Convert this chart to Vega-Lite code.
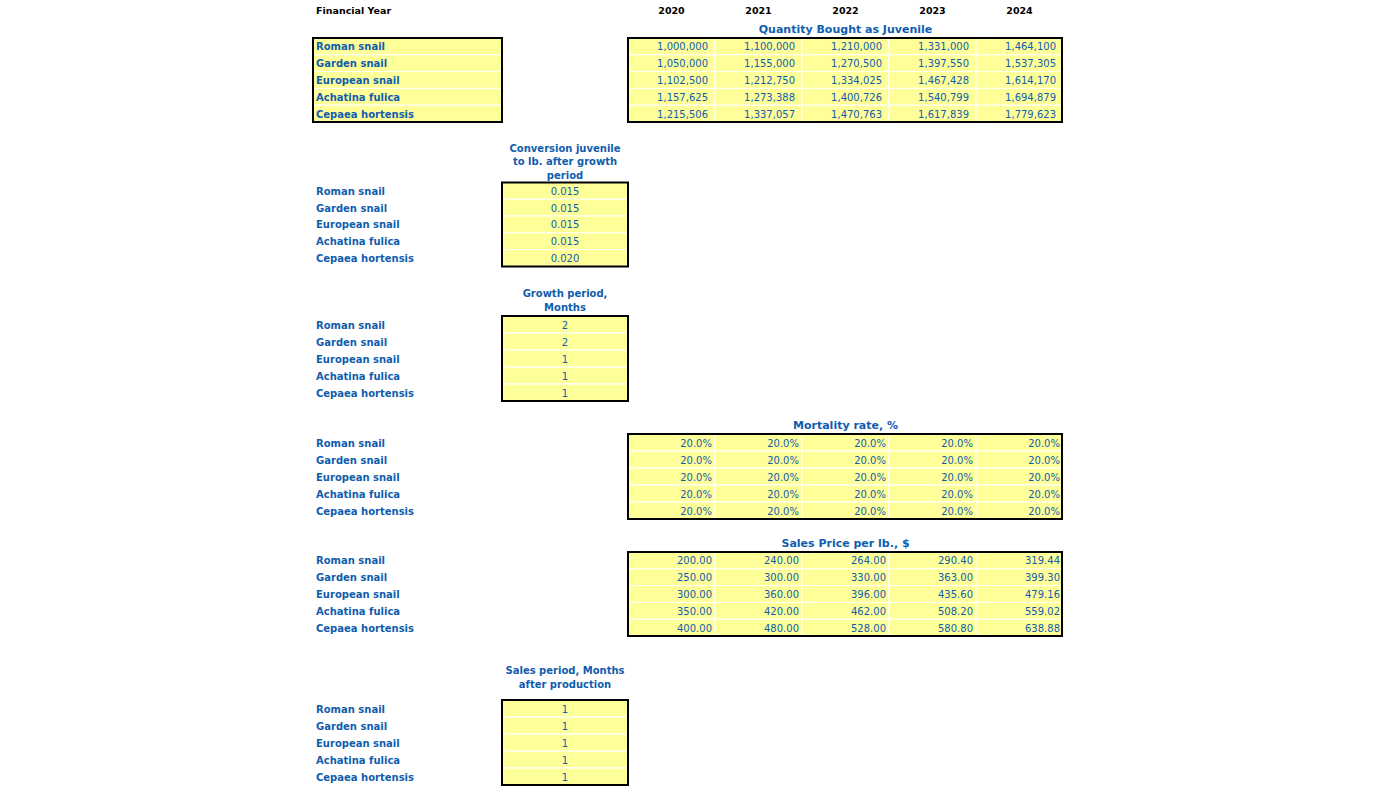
{
  "$schema": "https://vega.github.io/schema/vega-lite/v6.json",
  "width": 1396,
  "height": 786,
  "padding": 0,
  "autosize": "none",
  "background": "#ffffff",
  "config": {"view": {"stroke": null}, "axis": {"disable": true}, "font": "DejaVu Sans"},
  "datasets": {
    "labels": [
      {"species": "Roman snail", "row": 3, "col": 1, "boxed": true},
      {"species": "Garden snail", "row": 4, "col": 1, "boxed": true},
      {"species": "European snail", "row": 5, "col": 1, "boxed": true},
      {"species": "Achatina fulica", "row": 6, "col": 1, "boxed": true},
      {"species": "Cepaea hortensis", "row": 7, "col": 1, "boxed": true},
      {"species": "Roman snail", "row": 10, "col": 1, "boxed": false},
      {"species": "Garden snail", "row": 11, "col": 1, "boxed": false},
      {"species": "European snail", "row": 12, "col": 1, "boxed": false},
      {"species": "Achatina fulica", "row": 13, "col": 1, "boxed": false},
      {"species": "Cepaea hortensis", "row": 14, "col": 1, "boxed": false},
      {"species": "Roman snail", "row": 17, "col": 1, "boxed": false},
      {"species": "Garden snail", "row": 18, "col": 1, "boxed": false},
      {"species": "European snail", "row": 19, "col": 1, "boxed": false},
      {"species": "Achatina fulica", "row": 20, "col": 1, "boxed": false},
      {"species": "Cepaea hortensis", "row": 21, "col": 1, "boxed": false},
      {"species": "Roman snail", "row": 24, "col": 1, "boxed": false},
      {"species": "Garden snail", "row": 25, "col": 1, "boxed": false},
      {"species": "European snail", "row": 26, "col": 1, "boxed": false},
      {"species": "Achatina fulica", "row": 27, "col": 1, "boxed": false},
      {"species": "Cepaea hortensis", "row": 28, "col": 1, "boxed": false},
      {"species": "Roman snail", "row": 31, "col": 1, "boxed": false},
      {"species": "Garden snail", "row": 32, "col": 1, "boxed": false},
      {"species": "European snail", "row": 33, "col": 1, "boxed": false},
      {"species": "Achatina fulica", "row": 34, "col": 1, "boxed": false},
      {"species": "Cepaea hortensis", "row": 35, "col": 1, "boxed": false},
      {"species": "Roman snail", "row": 38, "col": 1, "boxed": false},
      {"species": "Garden snail", "row": 39, "col": 1, "boxed": false},
      {"species": "European snail", "row": 40, "col": 1, "boxed": false},
      {"species": "Achatina fulica", "row": 41, "col": 1, "boxed": false},
      {"species": "Cepaea hortensis", "row": 42, "col": 1, "boxed": false}
    ],
    "factors": [
      {"section": "conversion", "species": "Roman snail", "value": 0.015, "row": 10, "col": 2},
      {"section": "conversion", "species": "Garden snail", "value": 0.015, "row": 11, "col": 2},
      {"section": "conversion", "species": "European snail", "value": 0.015, "row": 12, "col": 2},
      {"section": "conversion", "species": "Achatina fulica", "value": 0.015, "row": 13, "col": 2},
      {"section": "conversion", "species": "Cepaea hortensis", "value": 0.02, "row": 14, "col": 2},
      {"section": "growth", "species": "Roman snail", "value": 2, "row": 17, "col": 2},
      {"section": "growth", "species": "Garden snail", "value": 2, "row": 18, "col": 2},
      {"section": "growth", "species": "European snail", "value": 1, "row": 19, "col": 2},
      {"section": "growth", "species": "Achatina fulica", "value": 1, "row": 20, "col": 2},
      {"section": "growth", "species": "Cepaea hortensis", "value": 1, "row": 21, "col": 2},
      {"section": "salesperiod", "species": "Roman snail", "value": 1, "row": 38, "col": 2},
      {"section": "salesperiod", "species": "Garden snail", "value": 1, "row": 39, "col": 2},
      {"section": "salesperiod", "species": "European snail", "value": 1, "row": 40, "col": 2},
      {"section": "salesperiod", "species": "Achatina fulica", "value": 1, "row": 41, "col": 2},
      {"section": "salesperiod", "species": "Cepaea hortensis", "value": 1, "row": 42, "col": 2}
    ],
    "yearly": [
      {"section": "quantity", "species": "Roman snail", "year": 2020, "value": 1000000, "row": 3, "col": 3},
      {"section": "quantity", "species": "Roman snail", "year": 2021, "value": 1100000, "row": 3, "col": 4},
      {"section": "quantity", "species": "Roman snail", "year": 2022, "value": 1210000, "row": 3, "col": 5},
      {"section": "quantity", "species": "Roman snail", "year": 2023, "value": 1331000, "row": 3, "col": 6},
      {"section": "quantity", "species": "Roman snail", "year": 2024, "value": 1464100, "row": 3, "col": 7},
      {"section": "quantity", "species": "Garden snail", "year": 2020, "value": 1050000, "row": 4, "col": 3},
      {"section": "quantity", "species": "Garden snail", "year": 2021, "value": 1155000, "row": 4, "col": 4},
      {"section": "quantity", "species": "Garden snail", "year": 2022, "value": 1270500, "row": 4, "col": 5},
      {"section": "quantity", "species": "Garden snail", "year": 2023, "value": 1397550, "row": 4, "col": 6},
      {"section": "quantity", "species": "Garden snail", "year": 2024, "value": 1537305, "row": 4, "col": 7},
      {"section": "quantity", "species": "European snail", "year": 2020, "value": 1102500, "row": 5, "col": 3},
      {"section": "quantity", "species": "European snail", "year": 2021, "value": 1212750, "row": 5, "col": 4},
      {"section": "quantity", "species": "European snail", "year": 2022, "value": 1334025, "row": 5, "col": 5},
      {"section": "quantity", "species": "European snail", "year": 2023, "value": 1467428, "row": 5, "col": 6},
      {"section": "quantity", "species": "European snail", "year": 2024, "value": 1614170, "row": 5, "col": 7},
      {"section": "quantity", "species": "Achatina fulica", "year": 2020, "value": 1157625, "row": 6, "col": 3},
      {"section": "quantity", "species": "Achatina fulica", "year": 2021, "value": 1273388, "row": 6, "col": 4},
      {"section": "quantity", "species": "Achatina fulica", "year": 2022, "value": 1400726, "row": 6, "col": 5},
      {"section": "quantity", "species": "Achatina fulica", "year": 2023, "value": 1540799, "row": 6, "col": 6},
      {"section": "quantity", "species": "Achatina fulica", "year": 2024, "value": 1694879, "row": 6, "col": 7},
      {"section": "quantity", "species": "Cepaea hortensis", "year": 2020, "value": 1215506, "row": 7, "col": 3},
      {"section": "quantity", "species": "Cepaea hortensis", "year": 2021, "value": 1337057, "row": 7, "col": 4},
      {"section": "quantity", "species": "Cepaea hortensis", "year": 2022, "value": 1470763, "row": 7, "col": 5},
      {"section": "quantity", "species": "Cepaea hortensis", "year": 2023, "value": 1617839, "row": 7, "col": 6},
      {"section": "quantity", "species": "Cepaea hortensis", "year": 2024, "value": 1779623, "row": 7, "col": 7},
      {"section": "mortality", "species": "Roman snail", "year": 2020, "value": 0.2, "row": 24, "col": 3},
      {"section": "mortality", "species": "Roman snail", "year": 2021, "value": 0.2, "row": 24, "col": 4},
      {"section": "mortality", "species": "Roman snail", "year": 2022, "value": 0.2, "row": 24, "col": 5},
      {"section": "mortality", "species": "Roman snail", "year": 2023, "value": 0.2, "row": 24, "col": 6},
      {"section": "mortality", "species": "Roman snail", "year": 2024, "value": 0.2, "row": 24, "col": 7},
      {"section": "mortality", "species": "Garden snail", "year": 2020, "value": 0.2, "row": 25, "col": 3},
      {"section": "mortality", "species": "Garden snail", "year": 2021, "value": 0.2, "row": 25, "col": 4},
      {"section": "mortality", "species": "Garden snail", "year": 2022, "value": 0.2, "row": 25, "col": 5},
      {"section": "mortality", "species": "Garden snail", "year": 2023, "value": 0.2, "row": 25, "col": 6},
      {"section": "mortality", "species": "Garden snail", "year": 2024, "value": 0.2, "row": 25, "col": 7},
      {"section": "mortality", "species": "European snail", "year": 2020, "value": 0.2, "row": 26, "col": 3},
      {"section": "mortality", "species": "European snail", "year": 2021, "value": 0.2, "row": 26, "col": 4},
      {"section": "mortality", "species": "European snail", "year": 2022, "value": 0.2, "row": 26, "col": 5},
      {"section": "mortality", "species": "European snail", "year": 2023, "value": 0.2, "row": 26, "col": 6},
      {"section": "mortality", "species": "European snail", "year": 2024, "value": 0.2, "row": 26, "col": 7},
      {"section": "mortality", "species": "Achatina fulica", "year": 2020, "value": 0.2, "row": 27, "col": 3},
      {"section": "mortality", "species": "Achatina fulica", "year": 2021, "value": 0.2, "row": 27, "col": 4},
      {"section": "mortality", "species": "Achatina fulica", "year": 2022, "value": 0.2, "row": 27, "col": 5},
      {"section": "mortality", "species": "Achatina fulica", "year": 2023, "value": 0.2, "row": 27, "col": 6},
      {"section": "mortality", "species": "Achatina fulica", "year": 2024, "value": 0.2, "row": 27, "col": 7},
      {"section": "mortality", "species": "Cepaea hortensis", "year": 2020, "value": 0.2, "row": 28, "col": 3},
      {"section": "mortality", "species": "Cepaea hortensis", "year": 2021, "value": 0.2, "row": 28, "col": 4},
      {"section": "mortality", "species": "Cepaea hortensis", "year": 2022, "value": 0.2, "row": 28, "col": 5},
      {"section": "mortality", "species": "Cepaea hortensis", "year": 2023, "value": 0.2, "row": 28, "col": 6},
      {"section": "mortality", "species": "Cepaea hortensis", "year": 2024, "value": 0.2, "row": 28, "col": 7},
      {"section": "price", "species": "Roman snail", "year": 2020, "value": 200, "row": 31, "col": 3},
      {"section": "price", "species": "Roman snail", "year": 2021, "value": 240, "row": 31, "col": 4},
      {"section": "price", "species": "Roman snail", "year": 2022, "value": 264, "row": 31, "col": 5},
      {"section": "price", "species": "Roman snail", "year": 2023, "value": 290.4, "row": 31, "col": 6},
      {"section": "price", "species": "Roman snail", "year": 2024, "value": 319.44, "row": 31, "col": 7},
      {"section": "price", "species": "Garden snail", "year": 2020, "value": 250, "row": 32, "col": 3},
      {"section": "price", "species": "Garden snail", "year": 2021, "value": 300, "row": 32, "col": 4},
      {"section": "price", "species": "Garden snail", "year": 2022, "value": 330, "row": 32, "col": 5},
      {"section": "price", "species": "Garden snail", "year": 2023, "value": 363, "row": 32, "col": 6},
      {"section": "price", "species": "Garden snail", "year": 2024, "value": 399.3, "row": 32, "col": 7},
      {"section": "price", "species": "European snail", "year": 2020, "value": 300, "row": 33, "col": 3},
      {"section": "price", "species": "European snail", "year": 2021, "value": 360, "row": 33, "col": 4},
      {"section": "price", "species": "European snail", "year": 2022, "value": 396, "row": 33, "col": 5},
      {"section": "price", "species": "European snail", "year": 2023, "value": 435.6, "row": 33, "col": 6},
      {"section": "price", "species": "European snail", "year": 2024, "value": 479.16, "row": 33, "col": 7},
      {"section": "price", "species": "Achatina fulica", "year": 2020, "value": 350, "row": 34, "col": 3},
      {"section": "price", "species": "Achatina fulica", "year": 2021, "value": 420, "row": 34, "col": 4},
      {"section": "price", "species": "Achatina fulica", "year": 2022, "value": 462, "row": 34, "col": 5},
      {"section": "price", "species": "Achatina fulica", "year": 2023, "value": 508.2, "row": 34, "col": 6},
      {"section": "price", "species": "Achatina fulica", "year": 2024, "value": 559.02, "row": 34, "col": 7},
      {"section": "price", "species": "Cepaea hortensis", "year": 2020, "value": 400, "row": 35, "col": 3},
      {"section": "price", "species": "Cepaea hortensis", "year": 2021, "value": 480, "row": 35, "col": 4},
      {"section": "price", "species": "Cepaea hortensis", "year": 2022, "value": 528, "row": 35, "col": 5},
      {"section": "price", "species": "Cepaea hortensis", "year": 2023, "value": 580.8, "row": 35, "col": 6},
      {"section": "price", "species": "Cepaea hortensis", "year": 2024, "value": 638.88, "row": 35, "col": 7}
    ],
    "headers": [
      {"kind": "fy", "text": "Financial Year", "row": 1, "col": 1},
      {"kind": "year", "text": "2020", "row": 1, "col": 3},
      {"kind": "year", "text": "2021", "row": 1, "col": 4},
      {"kind": "year", "text": "2022", "row": 1, "col": 5},
      {"kind": "year", "text": "2023", "row": 1, "col": 6},
      {"kind": "year", "text": "2024", "row": 1, "col": 7},
      {"kind": "title", "text": "Quantity Bought as Juvenile", "row": 2, "col": 5},
      {"kind": "title", "text": "Mortality rate, %", "row": 23, "col": 5},
      {"kind": "title", "text": "Sales Price per lb., $", "row": 30, "col": 5},
      {"kind": "sub3", "text": "Conversion juvenile\nto lb. after growth\nperiod", "row": 9, "col": 2},
      {"kind": "sub2", "text": "Growth period,\nMonths", "row": 16, "col": 2},
      {"kind": "sub2", "text": "Sales period, Months\nafter production", "row": 37, "col": 2}
    ],
    "blocks": [
      {"c0": 1, "c1": 2, "r0": 3, "r1": 7},
      {"c0": 3, "c1": 8, "r0": 3, "r1": 7},
      {"c0": 2, "c1": 3, "r0": 10, "r1": 14},
      {"c0": 2, "c1": 3, "r0": 17, "r1": 21},
      {"c0": 3, "c1": 8, "r0": 24, "r1": 28},
      {"c0": 3, "c1": 8, "r0": 31, "r1": 35},
      {"c0": 2, "c1": 3, "r0": 38, "r1": 42}
    ]
  },
  "layer": [
    {
      "data": {"name": "labels"},
      "transform": [{"filter": "datum.boxed"}],
      "mark": {"type": "rect", "fill": "#FFFF99", "stroke": "#ffffff", "strokeWidth": 1, "yOffset": -8.4, "y2Offset": 8.4, "x2Offset": 189},
      "encoding": {
        "x": {"field": "col", "type": "quantitative", "axis": null,
              "scale": {"type": "linear", "domain": [1, 2, 3, 4, 5, 6, 7, 8], "range": [313, 502, 628, 715, 802, 889, 976, 1062], "zero": false, "nice": false}},
        "x2": {"field": "col"},
        "y": {"field": "row", "type": "quantitative", "axis": null,
              "scale": {"type": "linear", "domain": [1, 2, 3, 7, 9, 10, 14, 16, 17, 21, 23, 24, 28, 30, 31, 35, 37, 38, 42], "range": [10, 29, 46.4, 113.6, 161, 190.8, 258, 300, 324.5, 392.5, 425, 442.5, 510.5, 543, 560.4, 627.6, 677, 708.5, 776.5], "zero": false, "nice": false}},
        "y2": {"field": "row"}
      }
    },
    {
      "data": {"name": "factors"},
      "mark": {"type": "rect", "fill": "#FFFF99", "stroke": "#ffffff", "strokeWidth": 1, "yOffset": -8.4, "y2Offset": 8.4, "x2Offset": 126},
      "encoding": {
        "x": {"field": "col", "type": "quantitative", "axis": null},
        "x2": {"field": "col"},
        "y": {"field": "row", "type": "quantitative", "axis": null},
        "y2": {"field": "row"}
      }
    },
    {
      "data": {"name": "yearly"},
      "mark": {"type": "rect", "fill": "#FFFF99", "stroke": "#ffffff", "strokeWidth": 1, "yOffset": -8.4, "y2Offset": 8.4, "x2Offset": 87},
      "encoding": {
        "x": {"field": "col", "type": "quantitative", "axis": null},
        "x2": {"field": "col"},
        "y": {"field": "row", "type": "quantitative", "axis": null},
        "y2": {"field": "row"}
      }
    },
    {
      "data": {"name": "blocks"},
      "mark": {"type": "rect", "filled": false, "stroke": "#000000", "strokeWidth": 2, "yOffset": -8.4, "y2Offset": 8.4},
      "encoding": {
        "x": {"field": "c0", "type": "quantitative", "axis": null},
        "x2": {"field": "c1"},
        "y": {"field": "r0", "type": "quantitative", "axis": null},
        "y2": {"field": "r1"}
      }
    },
    {
      "data": {"name": "labels"},
      "mark": {"type": "text", "align": "left", "baseline": "middle", "dx": 3, "dy": 1, "font": "DejaVu Sans", "fontSize": 10, "fontWeight": "bold", "color": "#0F5DAE"},
      "encoding": {
        "x": {"field": "col", "type": "quantitative", "axis": null},
        "y": {"field": "row", "type": "quantitative", "axis": null},
        "text": {"field": "species"}
      }
    },
    {
      "data": {"name": "factors"},
      "transform": [{"filter": "datum.section === 'conversion'"}],
      "mark": {"type": "text", "align": "center", "baseline": "middle", "dx": 63, "dy": 1, "font": "DejaVu Sans", "fontSize": 10, "color": "#0F5DAE"},
      "encoding": {
        "x": {"field": "col", "type": "quantitative", "axis": null},
        "y": {"field": "row", "type": "quantitative", "axis": null},
        "text": {"field": "value", "type": "quantitative", "format": ".3f"}
      }
    },
    {
      "data": {"name": "factors"},
      "transform": [{"filter": "datum.section !== 'conversion'"}],
      "mark": {"type": "text", "align": "center", "baseline": "middle", "dx": 63, "dy": 1, "font": "DejaVu Sans", "fontSize": 10, "color": "#0F5DAE"},
      "encoding": {
        "x": {"field": "col", "type": "quantitative", "axis": null},
        "y": {"field": "row", "type": "quantitative", "axis": null},
        "text": {"field": "value", "type": "quantitative", "format": "d"}
      }
    },
    {
      "data": {"name": "yearly"},
      "transform": [{"filter": "datum.section === 'quantity'"}],
      "mark": {"type": "text", "align": "right", "baseline": "middle", "dx": 80, "dy": 1, "font": "DejaVu Sans", "fontSize": 10, "color": "#0F5DAE"},
      "encoding": {
        "x": {"field": "col", "type": "quantitative", "axis": null},
        "y": {"field": "row", "type": "quantitative", "axis": null},
        "text": {"field": "value", "type": "quantitative", "format": ",.0f"}
      }
    },
    {
      "data": {"name": "yearly"},
      "transform": [{"filter": "datum.section === 'mortality'"}],
      "mark": {"type": "text", "align": "right", "baseline": "middle", "dx": 84, "dy": 1, "font": "DejaVu Sans", "fontSize": 10, "color": "#0F5DAE"},
      "encoding": {
        "x": {"field": "col", "type": "quantitative", "axis": null},
        "y": {"field": "row", "type": "quantitative", "axis": null},
        "text": {"field": "value", "type": "quantitative", "format": ".1%"}
      }
    },
    {
      "data": {"name": "yearly"},
      "transform": [{"filter": "datum.section === 'price'"}],
      "mark": {"type": "text", "align": "right", "baseline": "middle", "dx": 84, "dy": 1, "font": "DejaVu Sans", "fontSize": 10, "color": "#0F5DAE"},
      "encoding": {
        "x": {"field": "col", "type": "quantitative", "axis": null},
        "y": {"field": "row", "type": "quantitative", "axis": null},
        "text": {"field": "value", "type": "quantitative", "format": ",.2f"}
      }
    },
    {
      "data": {"name": "headers"},
      "transform": [{"filter": "datum.kind === 'fy'"}],
      "mark": {"type": "text", "align": "left", "baseline": "middle", "dx": 3, "dy": 1, "font": "DejaVu Sans", "fontSize": 9.5, "fontWeight": "bold", "color": "#000000"},
      "encoding": {
        "x": {"field": "col", "type": "quantitative", "axis": null},
        "y": {"field": "row", "type": "quantitative", "axis": null},
        "text": {"field": "text"}
      }
    },
    {
      "data": {"name": "headers"},
      "transform": [{"filter": "datum.kind === 'year'"}],
      "mark": {"type": "text", "align": "center", "baseline": "middle", "dx": 43.5, "dy": 1, "font": "DejaVu Sans", "fontSize": 9.5, "fontWeight": "bold", "color": "#000000"},
      "encoding": {
        "x": {"field": "col", "type": "quantitative", "axis": null},
        "y": {"field": "row", "type": "quantitative", "axis": null},
        "text": {"field": "text"}
      }
    },
    {
      "data": {"name": "headers"},
      "transform": [{"filter": "datum.kind === 'title'"}],
      "mark": {"type": "text", "align": "center", "baseline": "middle", "dx": 43.5, "dy": 1, "font": "DejaVu Sans", "fontSize": 11, "fontWeight": "bold", "color": "#0F5DAE"},
      "encoding": {
        "x": {"field": "col", "type": "quantitative", "axis": null},
        "y": {"field": "row", "type": "quantitative", "axis": null},
        "text": {"field": "text"}
      }
    },
    {
      "data": {"name": "headers"},
      "transform": [{"filter": "datum.kind === 'sub3'"}],
      "mark": {"type": "text", "align": "center", "baseline": "middle", "dx": 63, "dy": -12.5, "lineBreak": "\n", "lineHeight": 13.5, "font": "DejaVu Sans", "fontSize": 10, "fontWeight": "bold", "color": "#0F5DAE"},
      "encoding": {
        "x": {"field": "col", "type": "quantitative", "axis": null},
        "y": {"field": "row", "type": "quantitative", "axis": null},
        "text": {"field": "text"}
      }
    },
    {
      "data": {"name": "headers"},
      "transform": [{"filter": "datum.kind === 'sub2'"}],
      "mark": {"type": "text", "align": "center", "baseline": "middle", "dx": 63, "dy": -5.75, "lineBreak": "\n", "lineHeight": 13.5, "font": "DejaVu Sans", "fontSize": 10, "fontWeight": "bold", "color": "#0F5DAE"},
      "encoding": {
        "x": {"field": "col", "type": "quantitative", "axis": null},
        "y": {"field": "row", "type": "quantitative", "axis": null},
        "text": {"field": "text"}
      }
    }
  ]
}
